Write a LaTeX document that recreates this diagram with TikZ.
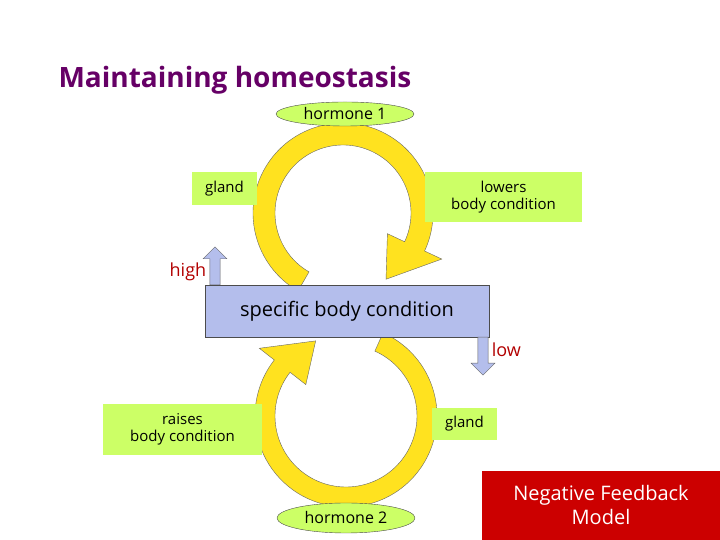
\documentclass[tikz,border=0pt]{standalone}
\usepackage{fontspec}
\setmainfont{Open Sans}
\usetikzlibrary{shapes.arrows,shapes.geometric,calc}
\definecolor{loopyellow}{HTML}{FFE21F}
\definecolor{boxgreen}{HTML}{CCFF66}
\definecolor{boxblue}{HTML}{B4BEEC}
\definecolor{titlepurple}{HTML}{660066}
\definecolor{modelred}{HTML}{CC0000}
\tikzset{
  labelbox/.style={fill=boxgreen,inner sep=2pt,align=center,font=\fontsize{15}{17}\selectfont},
  hormone/.style={ellipse,draw=black!70,fill=boxgreen,minimum width=138pt,minimum height=24pt,inner sep=0pt,font=\fontsize{16}{17}\selectfont},
  loopband/.style={fill=loopyellow,draw=black!60,line width=0.4pt},
  levelarrow/.style={single arrow,draw=black!60,fill=boxblue,minimum width=24pt,single arrow head extend=3pt,inner sep=2pt,minimum height=38pt},
  levellabel/.style={text=red!70!black,font=\fontsize{18}{19}\selectfont},
}
\begin{document}
\begin{tikzpicture}[x=1pt,y=1pt]

\useasboundingbox (0,0) rectangle (720,540) ;

% upper loop, clockwise
\draw[loopband] (343,327) ++(240:90) arc[start angle=240,end angle=-25,radius=90]
  -- ++(-25:19) -- ($(343,327)+(-57:79)$) -- ($(343,327)+(-25:49)$)
  -- ($(343,327)+(-25:68)$)
  arc[start angle=-25,end angle=240,radius=68] -- cycle ;

% lower loop, clockwise
\draw[loopband] (346,124) ++(66:91) arc[start angle=66,end angle=-218,radius=91]
  -- ++(142:19) -- ($(346,124)+(112:81)$) -- ($(346,124)+(142:51)$)
  -- ($(346,124)+(142:71)$)
  arc[start angle=-218,end angle=66,radius=71] -- cycle ;

\node[draw=black!70,fill=boxblue,minimum width=284pt,minimum height=52pt,font=\fontsize{20}{21}\selectfont] (cond) at (347,229) {specific body condition} ;

\node[levelarrow,shape border rotate=90,anchor=tail] (up) at (215,255) {} ;
\node[levelarrow,shape border rotate=270,anchor=tail] (down) at (483,203) {} ;
\node[levellabel,anchor=east] (high) at (up.west) [yshift=-3pt] {high} ;
\node[levellabel,anchor=west] (low) at (down.east) [yshift=4pt] {low} ;

\node[labelbox,minimum width=65pt,minimum height=33pt] (gland1) at (224.5,351.5) {gland} ;
\node[labelbox,minimum width=157pt,minimum height=50pt] (lowers) at (503.5,343) {lowers\\body condition} ;
\node[labelbox,minimum width=159pt,minimum height=51pt] (raises) at (182.5,110.5) {raises\\body condition} ;
\node[labelbox,minimum width=65pt,minimum height=32pt] (gland2) at (464.5,116) {gland} ;

\node[hormone] (horm1) at (345,426) {hormone 1} ;
\node[hormone,minimum height=30pt] (horm2) at (346,22) {hormone 2} ;

\node[fill=modelred,text=white,minimum width=238pt,minimum height=69pt,align=center,font=\fontsize{20}{24}\selectfont] (model) at (601,34.5) {Negative Feedback\\Model} ;

\node[anchor=west,text=titlepurple,font=\fontsize{28}{30}\selectfont\bfseries] (title) at (55,460) {Maintaining homeostasis} ;

\end{tikzpicture}
\end{document}
